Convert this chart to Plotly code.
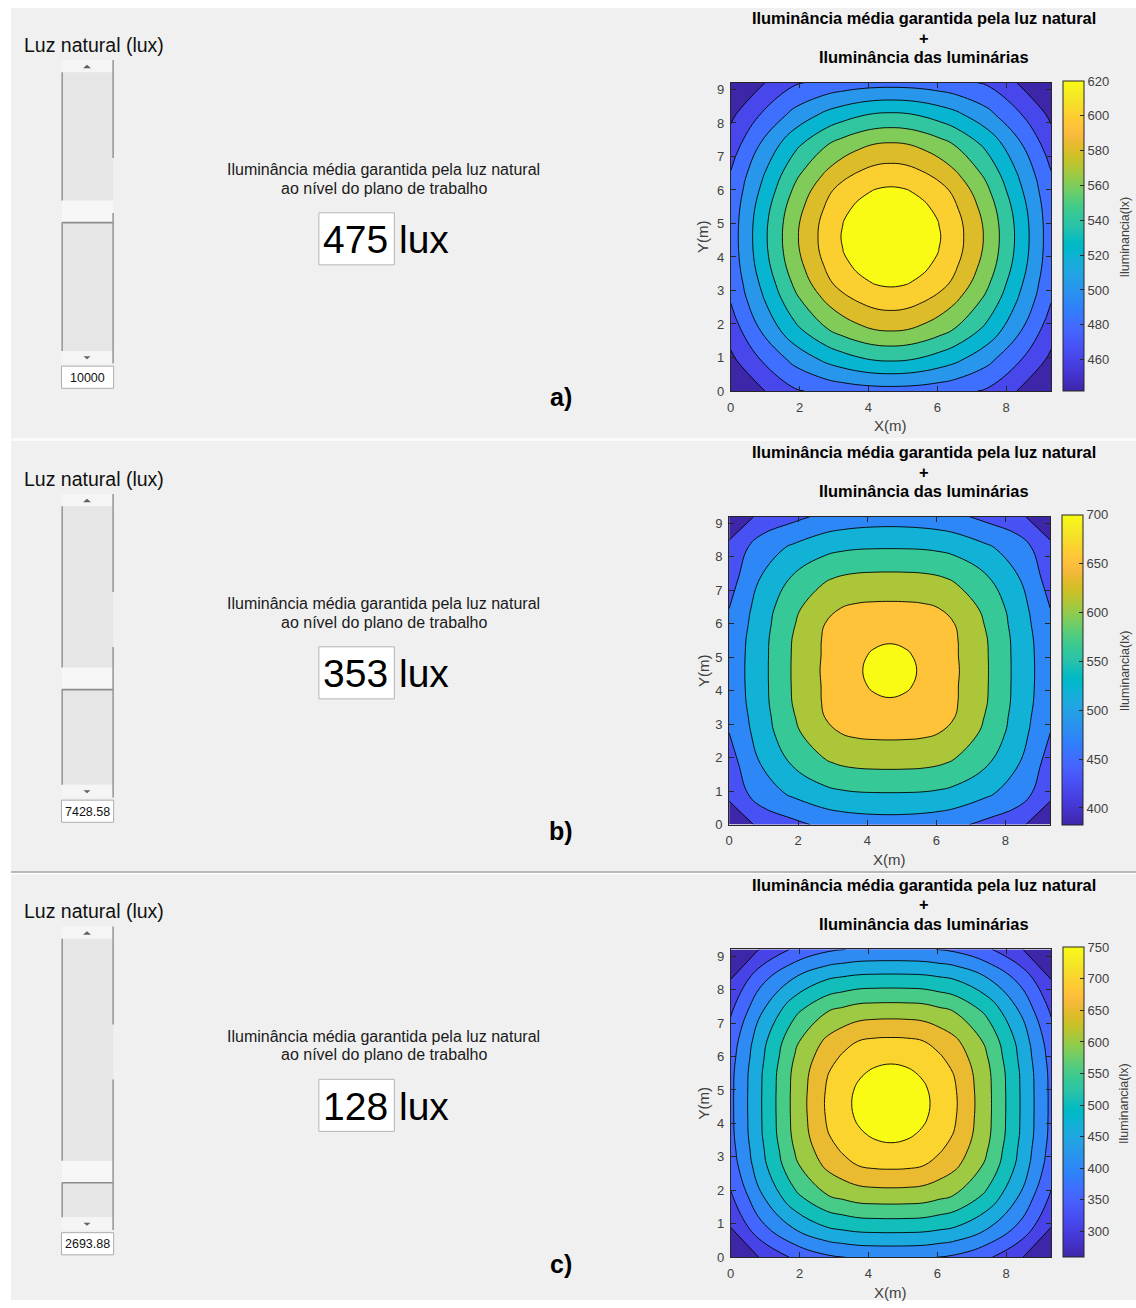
import plotly.graph_objects as go

W, H = 1136, 1308
FONT = "Arial, Liberation Sans, sans-serif"

# ---------------------------------------------------------------- data
# calculation grid of the room (m); finer around the centre of the room
x_m = [0.0, 0.93, 1.86, 2.79, 3.255, 3.72, 4.185, 4.65, 5.115, 5.58, 6.045, 6.51, 7.44, 8.37, 9.3]
y_m = [0.0, 0.92, 1.84, 2.76, 3.22, 3.68, 4.14, 4.6, 5.06, 5.52, 5.98, 6.44, 7.36, 8.28, 9.2]

# illuminance (lx) in one quarter of the room: rows go from the centre (y=4.6)
# to the wall (y=9.2), columns from the centre (x=4.65) to the wall (x=9.3)
quarto_a = [
    [620.0, 618.2, 611.9, 603.5, 592.4, 563.3, 525.8, 486.0],
    [618.3, 616.5, 611.0, 601.8, 591.1, 562.0, 524.9, 485.6],
    [612.9, 611.4, 605.1, 597.2, 586.3, 558.2, 522.0, 484.3],
    [604.8, 603.0, 597.9, 590.6, 580.9, 552.0, 517.3, 482.0],
    [594.4, 592.7, 587.3, 580.5, 570.3, 544.9, 512.1, 479.2],
    [568.5, 567.0, 562.5, 556.0, 548.0, 526.3, 498.4, 468.1],
    [532.2, 531.1, 527.6, 522.5, 516.6, 500.2, 479.0, 455.5],
    [489.0, 488.6, 487.4, 485.3, 482.7, 475.5, 458.7, 442.0],
]
quarto_b = [
    [700.0, 672.0, 654.9, 641.5, 628.0, 585.3, 529.1, 476.0],
    [673.3, 665.5, 652.1, 639.5, 626.5, 584.9, 528.8, 475.2],
    [656.1, 652.9, 646.0, 634.0, 626.1, 583.7, 528.0, 473.0],
    [643.3, 641.1, 634.9, 629.0, 622.0, 578.5, 524.8, 468.2],
    [630.4, 629.9, 628.1, 622.5, 611.3, 572.4, 521.0, 462.5],
    [591.9, 591.4, 589.9, 585.5, 577.0, 546.6, 503.9, 445.6],
    [539.6, 539.3, 538.3, 535.2, 529.5, 508.7, 481.3, 435.0],
    [484.0, 483.2, 481.0, 477.5, 472.0, 451.9, 435.0, 383.0],
]
quarto_c = [
    [750.0, 739.0, 715.0, 693.4, 666.7, 585.7, 485.6, 383.7],
    [739.6, 729.8, 711.2, 689.4, 663.7, 584.9, 485.1, 383.3],
    [716.4, 712.1, 699.5, 678.4, 658.0, 582.6, 483.8, 382.0],
    [696.6, 692.1, 679.9, 666.0, 644.9, 573.5, 477.8, 377.0],
    [671.0, 669.5, 663.0, 647.5, 626.0, 562.7, 471.1, 370.0],
    [597.1, 596.2, 593.4, 582.0, 569.6, 517.0, 437.0, 343.0],
    [502.8, 502.2, 500.4, 493.5, 484.4, 445.0, 386.0, 305.0],
    [400.0, 399.5, 397.5, 392.0, 385.0, 356.0, 310.0, 259.0],
]

# colour limits (lx) and number of contour levels of each map
lim_a = [442, 620]
lim_b = [383, 700]
lim_c = [259, 750]
n_niveis = [9, 7, 10]

ticks_cor_a = [460, 480, 500, 520, 540, 560, 580, 600, 620]
ticks_cor_b = [400, 450, 500, 550, 600, 650, 700]
ticks_cor_c = [300, 350, 400, 450, 500, 550, 600, 650, 700, 750]
ticks_x = [0, 2, 4, 6, 8]
ticks_y = [0, 1, 2, 3, 4, 5, 6, 7, 8, 9]

# slider state and daylight result of each case
luz_natural = [10000, 7428.58, 2693.88]
luz_natural_txt = ["10000", "7428.58", "2693.88"]
luz_max = 20000
media_natural = [475, 353, 128]
rotulos = ["a)", "b)", "c)"]


def sala_completa(quarto):
    """Whole-room table from the quarter table (the room is symmetric about its centre)."""
    linhas = [linha[::-1] + linha[1:] for linha in quarto]
    return linhas[::-1] + linhas[1:]


# ---------------------------------------------------------------- style
PARULA = [
    "#3e26a8", "#402ab4", "#422ec0", "#4332cb", "#4537d5", "#463cde", "#4741e5", "#4747eb",
    "#484df0", "#4852f4", "#4758f8", "#465efb", "#4563fd", "#4269fe", "#3e6fff", "#3875fe",
    "#327cfc", "#2f81fa", "#2e87f7", "#2d8cf3", "#2b91ef", "#2796eb", "#259be8", "#23a0e5",
    "#20a5e3", "#1ca9df", "#18addb", "#12b1d6", "#08b5d0", "#01b8ca", "#02bac3", "#0bbdbd",
    "#19bfb6", "#24c1ae", "#2cc4a7", "#31c69f", "#37c897", "#3fca8e", "#4acb84", "#57cc7a",
    "#64cd6f", "#72cd64", "#81cc59", "#8fcb4e", "#9dc943", "#abc739", "#b9c431", "#c5c22a",
    "#d1bf27", "#dcbd29", "#e6bb2d", "#f0ba36", "#f8ba3d", "#febe3c", "#fec338", "#fec934",
    "#fccf30", "#fad62d", "#f7dc2a", "#f5e327", "#f5e924", "#f6ef20", "#f7f51b", "#f9fb15",
]
PARULA_SCALE = [[i / (len(PARULA) - 1), c] for i, c in enumerate(PARULA)]

PANEL_BG = "#f0f0f0"
AXIS = "#262626"
TICKTXT = "#404040"

# panel frames: vertical offset, gray area, plot box (l, t, r, b), colourbar x-extent
paineis = [
    dict(o=0.0, area=(7, 7, 1136, 440), box=(729.3, 82.3, 1050.7, 392.7), cb=(1062.7, 1083.3)),
    dict(o=437.0, area=(7, 443, 1136, 876.3), box=(727.7, 519.3, 1050.0, 829.3), cb=(1061.7, 1082.7)),
    dict(o=872.5, area=(7, 879.3, 1136, 1308), box=(729.3, 955.0, 1050.7, 1265.0), cb=(1062.7, 1083.3)),
]
mapas = [sala_completa(quarto_a), sala_completa(quarto_b), sala_completa(quarto_c)]
limites = [lim_a, lim_b, lim_c]
ticks_cor = [ticks_cor_a, ticks_cor_b, ticks_cor_c]


def fx(x):
    return x / W


def fy(y):
    return 1 - y / H


fig = go.Figure()
shapes = []
annotations = []


def rect(x0, y0, x1, y1, fill, line=None, lw=1, layer="below"):
    shapes.append(dict(type="rect", xref="paper", yref="paper",
                       x0=fx(x0), x1=fx(x1), y0=fy(y1), y1=fy(y0),
                       fillcolor=fill, layer=layer,
                       line=dict(color=line or fill, width=lw if line else 0)))


def seg(x0, y0, x1, y1, color, lw=1, layer="above"):
    shapes.append(dict(type="line", xref="paper", yref="paper",
                       x0=fx(x0), x1=fx(x1), y0=fy(y0), y1=fy(y1), layer=layer,
                       line=dict(color=color, width=lw)))


def seta(cx, cy, w, h, up, color="#606060"):
    """Small flat triangle of a scroll button."""
    tip, base = (cy - h / 2, cy + h / 2) if up else (cy + h / 2, cy - h / 2)
    path = (f"M {fx(cx - w / 2)} {fy(base)} L {fx(cx + w / 2)} {fy(base)} "
            f"L {fx(cx)} {fy(tip)} Z")
    shapes.append(dict(type="path", xref="paper", yref="paper", path=path,
                       fillcolor=color, line=dict(width=0), layer="above"))


def text(x, y, s, size, color="#000000", bold=False, xanchor="center", yanchor="middle",
         angle=0, family=FONT):
    annotations.append(dict(xref="paper", yref="paper", x=fx(x), y=fy(y), text=s,
                            showarrow=False, xanchor=xanchor, yanchor=yanchor,
                            textangle=angle, borderpad=0,
                            font=dict(size=size, color=color, family=family,
                                      weight="bold" if bold else "normal")))


for k, p in enumerate(paineis):
    o = p["o"]
    ax0, ay0, ax1, ay1 = p["area"]
    rect(ax0, ay0, ax1, ay1, PANEL_BG)

    # ---------------- slider "Luz natural (lux)"
    text(19, 44 + o, "Luz natural (lux)", 19.5, "#111111", xanchor="left")
    sl, sr = 58.0, 109.5
    up0, up1 = 59.3 + o, 71.7 + o
    dn0, dn1 = 352.3 + o, 365.0 + o
    rect(sl, up0, sr, up1, "#f5f5f5", layer="above")
    rect(sl, up1, sr, dn0, "#e6e6e6", layer="above")
    rect(sl, dn0, sr, dn1, "#f5f5f5", layer="above")
    seta(83.3, 66.0 + o, 8.0, 3.6, True)
    seta(83.3, 359.2 + o, 7.0, 3.2, False)
    thumb_h = 22.3
    travel = (dn0 - up1) - thumb_h
    t0 = up1 + (1 - luz_natural[k] / luz_max) * travel
    rect(sl, t0, sr, t0 + thumb_h, "#f7f7f7", layer="above")
    seg(sl, t0 + thumb_h, sr + 0.8, t0 + thumb_h, "#8c8c8c", 1.6)
    seg(sl + 0.4, up1, sl + 0.4, t0, "#9a9a9a", 1.6)
    seg(sl + 0.4, t0 + thumb_h, sl + 0.4, dn0, "#9a9a9a", 1.6)
    seg(sr, up0, sr, 158.0 + o, "#9a9a9a", 1.6)
    seg(sr, 213.5 + o, sr, dn1, "#9a9a9a", 1.6)
    rect(57.7, 367.7 + o, 110.0, 390.0 + o, "#ffffff", line="#adadad", lw=1, layer="above")
    text(83.9, 379.2 + o, luz_natural_txt[k], 12.5, "#111111")

    # ---------------- daylight result
    text(381.3, 170 + o, "Iluminância média garantida pela luz natural", 16, "#1a1a1a")
    text(381.3, 188.5 + o, "ao nível do plano de trabalho", 16, "#1a1a1a")
    rect(316.0, 213.3 + o, 391.7, 265.7 + o, "#ffffff", line="#b4b4b4", lw=1, layer="above")
    text(353.2, 240.5 + o, str(media_natural[k]), 39, "#000000")
    text(395.0, 240.5 + o, "lux", 39, "#000000", xanchor="left")
    text(558.5, 399 + o, rotulos[k], 25, "#000000", bold=True)

    # ---------------- contour map
    l, t, r, b = p["box"]
    xa = "x" if k == 0 else f"x{k + 1}"
    ya = "y" if k == 0 else f"y{k + 1}"
    lo, hi = limites[k]
    n = n_niveis[k]
    passo = (hi - lo) / (n + 1)
    fig.add_trace(go.Contour(
        x=x_m, y=y_m, z=mapas[k], xaxis=xa, yaxis=ya,
        autocontour=False,
        contours=dict(start=lo + passo, end=lo + n * passo, size=passo,
                      coloring="fill", showlines=True),
        colorscale=PARULA_SCALE, showscale=False,
        line=dict(color="#000000", width=0.9, smoothing=1.2),
        hoverinfo="skip",
    ))
    # continuous colour bar of the map
    c0, c1 = p["cb"]
    fig.add_trace(go.Scatter(
        x=[0, 0], y=[0, 0], mode="markers", xaxis=xa, yaxis=ya,
        hoverinfo="skip", showlegend=False,
        marker=dict(size=1, opacity=0, color=limites[k], colorscale=PARULA_SCALE,
                    cmin=lo, cmax=hi, showscale=True,
                    colorbar=dict(x=fx(c0), xanchor="left", y=fy(b), yanchor="bottom",
                                  len=b - t, lenmode="pixels",
                                  thickness=c1 - c0, thicknessmode="pixels",
                                  xpad=0, ypad=0, outlinewidth=1, outlinecolor=AXIS,
                                  borderwidth=0, bgcolor="rgba(0,0,0,0)",
                                  tickmode="array", tickvals=ticks_cor[k],
                                  ticks="inside", ticklen=4, tickwidth=1, tickcolor=AXIS,
                                  tickfont=dict(size=13, color=TICKTXT, family=FONT))),
    ))
    axis_common = dict(showline=True, linecolor=AXIS, linewidth=1, mirror="ticks",
                       ticks="inside", ticklen=5, tickwidth=1, tickcolor=AXIS,
                       showgrid=False, zeroline=False,
                       tickfont=dict(size=13, color=TICKTXT, family=FONT))
    fig.update_layout({
        ("xaxis" if k == 0 else f"xaxis{k + 1}"): dict(
            range=[x_m[0], x_m[-1]], domain=[fx(l), fx(r)], anchor=ya,
            tickmode="array", tickvals=ticks_x, ticklabelstandoff=4, **axis_common),
        ("yaxis" if k == 0 else f"yaxis{k + 1}"): dict(
            range=[y_m[0], y_m[-1]], domain=[fy(b), fy(t)], anchor=xa,
            tickmode="array", tickvals=ticks_y, ticklabelstandoff=3, **axis_common),
    })

    # titles and axis labels
    cx = 922.8
    text(cx, 17.3 + o, "Iluminância média garantida pela luz natural", 16.4, "#000000", bold=True)
    text(cx, 36.9 + o, "+", 16.4, "#000000", bold=True)
    text(cx, 56.6 + o, "Iluminância das luminárias", 16.4, "#000000", bold=True)
    text((l + r) / 2, 427.7 + o, "X(m)", 15, TICKTXT)
    text(701.7, (t + b) / 2, "Y(m)", 15, TICKTXT, angle=-90)
    text(1124.5, (t + b) / 2, "Iluminancia(lx)", 12.5, TICKTXT, angle=-90)

# separators between the three cases
rect(7, 440.0, 1136, 443.0, "#fafafa")
seg(7, 877.0, 1136, 877.0, "#a0a0a0", 1.5, layer="below")

fig.update_layout(
    width=W, height=H, margin=dict(l=0, r=0, t=0, b=0),
    paper_bgcolor="#ffffff", plot_bgcolor="rgba(0,0,0,0)",
    showlegend=False, shapes=shapes, annotations=annotations,
    font=dict(family=FONT),
)

fig.write_html("out.html")
